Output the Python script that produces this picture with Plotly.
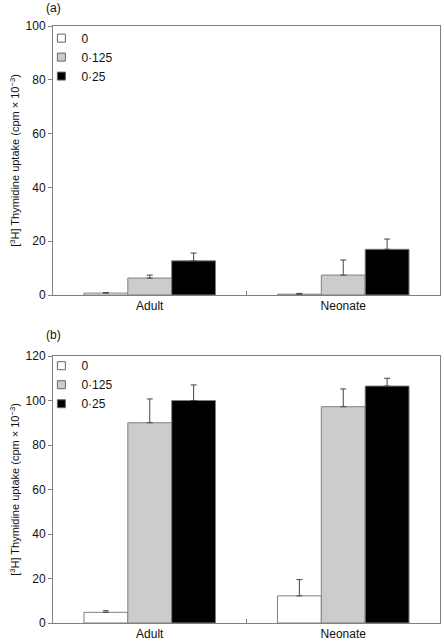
import plotly.graph_objects as go
from plotly.subplots import make_subplots

groups = ["Adult", "Neonate"]
doses = ["0", "0·125", "0·25"]
colors = ["#ffffff", "#cccccc", "#000000"]

# panel (a)
a_values = {"0": [0.7, 0.3], "0·125": [6.3, 7.4], "0·25": [12.7, 17.0]}
a_errors = {"0": [0.2, 0.3], "0·125": [1.1, 5.6], "0·25": [2.9, 3.8]}
# panel (b)
b_values = {"0": [4.8, 12.2], "0·125": [90.0, 97.2], "0·25": [100.0, 106.5]}
b_errors = {"0": [0.7, 7.3], "0·125": [10.7, 8.0], "0·25": [7.0, 3.5]}

H = 643
top, bottom = 26, 20
ph = H - top - bottom
def py(p):
    return (H - bottom - p) / ph

fig = make_subplots(rows=2, cols=1)
fig.update_layout(
    yaxis=dict(domain=[py(295), 1.0]),
    yaxis2=dict(domain=[0, py(356)]),
)

FONT = "Liberation Sans, Arial"
for row, vals, errs, leg in [(1, a_values, a_errors, "legend"), (2, b_values, b_errors, "legend2")]:
    for d, c in zip(doses, colors):
        fig.add_trace(go.Bar(
            x=groups, y=vals[d], name=d, showlegend=False,
            marker=dict(color=c, line=dict(color="#808080", width=1)),
            error_y=dict(type="data", array=errs[d], arrayminus=[0] * len(errs[d]), symmetric=False,
                         color="#444444", thickness=1, width=3),
        ), row=row, col=1)
    for d, c in zip(doses, colors):
        fig.add_trace(go.Scatter(
            x=[None], y=[None], mode="markers", name=d, legend=leg,
            marker=dict(symbol="square", size=8, color=c, line=dict(color="#666666", width=1)),
        ), row=row, col=1)

axis_common = dict(showline=True, linecolor="#808080", linewidth=1, mirror=True, automargin=False,
                   tickfont=dict(family=FONT, size=12, color="#111"))
fig.update_xaxes(**axis_common, ticks="inside", tickson="boundaries", ticklen=4, tickcolor="#808080")
fig.update_yaxes(**axis_common, ticks="outside", ticklen=4, tickcolor="#808080", showgrid=False, zeroline=False,
                 title=dict(text="[<sup>3</sup>H] Thymidine uptake (cpm × 10<sup>−3</sup>)",
                            font=dict(family=FONT, size=11, color="#111"), standoff=3))
fig.update_yaxes(range=[0, 100], dtick=20, row=1, col=1)
fig.update_yaxes(range=[0, 120], dtick=20, row=2, col=1)

leg_common = dict(font=dict(family=FONT, size=12, color="#111"), bgcolor="rgba(0,0,0,0)",
                  itemwidth=30, tracegroupgap=0, xanchor="left", yanchor="top", itemclick=False,
                  itemsizing="trace")
fig.update_layout(
    width=444, height=H,
    margin=dict(l=53, r=4, t=top, b=bottom),
    plot_bgcolor="white", paper_bgcolor="white",
    barmode="group", bargap=0.32, bargroupgap=0,
    font=dict(family=FONT, color="#111"),
    legend=dict(**leg_common, x=-0.03, y=1.004),
    legend2=dict(**leg_common, x=-0.03, y=py(356) + 0.008),
    annotations=[
        dict(text="(a)", x=0, y=1.0, xref="paper", yref="paper", xanchor="center", yanchor="bottom",
             showarrow=False, yshift=9, font=dict(size=12)),
        dict(text="(b)", x=0, y=py(356), xref="paper", yref="paper", xanchor="center", yanchor="bottom",
             showarrow=False, yshift=12, font=dict(size=12)),
    ],
)

fig.write_html("out.html", config={"displayModeBar": False},
               post_script="document.body.style.margin='0';document.body.style.overflow='hidden';")
